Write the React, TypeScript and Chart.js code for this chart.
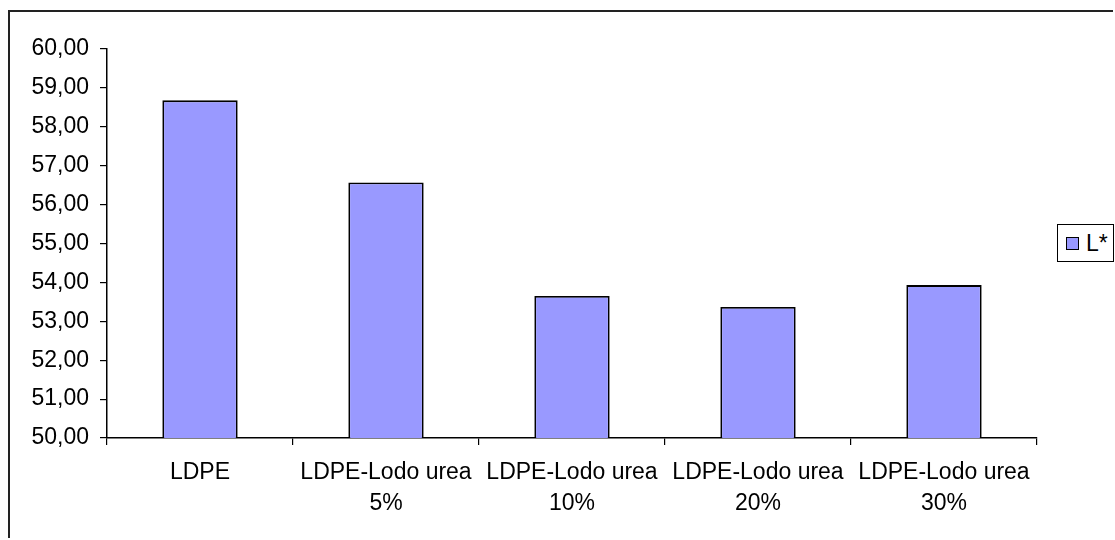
import React, { useEffect, useRef } from "react";
import { Chart, registerables } from "chart.js";

Chart.register(...registerables);

const categories: string[][] = [
  ["LDPE"],
  ["LDPE-Lodo urea", "5%"],
  ["LDPE-Lodo urea", "10%"],
  ["LDPE-Lodo urea", "20%"],
  ["LDPE-Lodo urea", "30%"],
];
const seriesName = "L*";
const seriesValues = [58.68, 56.57, 53.65, 53.37, 53.93];
const yMin = 50;
const yMax = 60;
const yStep = 1;

const FONT = "'Liberation Sans', Arial, sans-serif";
const BAR_FILL = "#9999FF";

export default function App() {
  const ref = useRef<HTMLCanvasElement | null>(null);

  useEffect(() => {
    if (!ref.current) return;
    const chart = new Chart(ref.current, {
      type: "bar",
      data: {
        labels: categories,
        datasets: [
          {
            label: seriesName,
            data: seriesValues,
            backgroundColor: BAR_FILL,
            borderColor: "#000000",
            borderWidth: 1.8,
            categoryPercentage: 1,
            barPercentage: 0.405,
          },
        ],
      },
      options: {
        responsive: false,
        animation: false,
        devicePixelRatio: 1,
        layout: { padding: { left: 0, top: 49, right: 78, bottom: 0 } },
        plugins: {
          legend: { display: false },
          tooltip: { enabled: false },
        },
        scales: {
          x: {
            afterFit: (s: any) => {
              s.height = 102;
            },
            grid: {
              offset: true,
              drawOnChartArea: false,
              drawTicks: true,
              tickLength: 7,
              color: "#000000",
              lineWidth: 1.2,
            },
            border: { display: true, color: "#000000", width: 1.5 },
            ticks: {
              color: "#000000",
              font: { family: FONT, size: 23, lineHeight: 1.35 },
              padding: 12,
              maxRotation: 0,
              autoSkip: false,
            },
          },
          y: {
            min: yMin,
            max: yMax,
            afterFit: (s: any) => {
              s.width = 107;
            },
            grid: {
              drawOnChartArea: false,
              drawTicks: true,
              tickLength: 7,
              color: "#000000",
              lineWidth: 1.2,
            },
            border: { display: true, color: "#000000", width: 1.5 },
            ticks: {
              stepSize: yStep,
              color: "#000000",
              font: { family: FONT, size: 23 },
              padding: 11,
              callback: (v: any) => Number(v).toFixed(2).replace(".", ","),
            },
          },
        },
      },
    });
    return () => chart.destroy();
  }, []);

  return (
    <div style={{ position: "absolute", left: 0, top: 0, width: 1115, height: 540, overflow: "hidden", background: "#fff" }}>
      <div
        style={{
          position: "absolute",
          left: 8,
          top: 10,
          width: 1105,
          height: 528,
          borderLeft: "2px solid #222",
          borderTop: "2px solid #222",
          boxSizing: "border-box",
        }}
      />
      <canvas
        ref={ref}
        width={1115}
        height={540}
        style={{ position: "absolute", left: 0, top: 0, width: 1115, height: 540 }}
      />
      <div
        style={{
          position: "absolute",
          left: 1057,
          top: 224,
          width: 57,
          height: 38,
          border: "1px solid #000",
          boxSizing: "border-box",
          background: "#fff",
          display: "flex",
          alignItems: "center",
          fontFamily: FONT,
          fontSize: 23,
          color: "#000",
        }}
      >
        <span
          style={{
            display: "inline-block",
            marginLeft: 8,
            width: 13,
            height: 13,
            background: BAR_FILL,
            border: "1.5px solid #000",
            boxSizing: "border-box",
          }}
        />
        <span style={{ marginLeft: 7, lineHeight: "23px" }}>{seriesName}</span>
      </div>
    </div>
  );
}
